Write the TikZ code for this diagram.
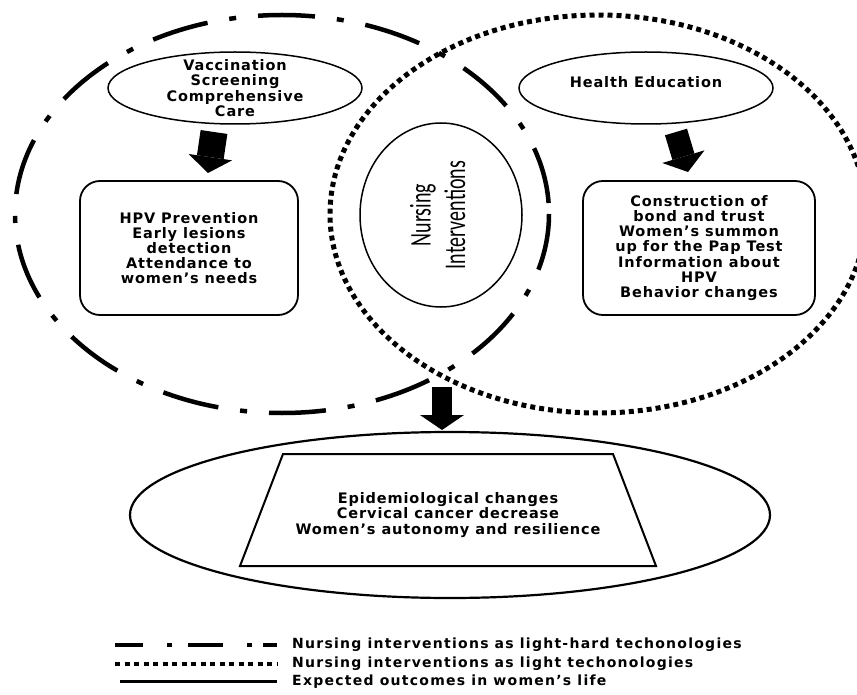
\documentclass[tikz,border=0pt]{standalone}
\usepackage{fontspec}
\usetikzlibrary{shapes.geometric,arrows.meta}
\newfontfamily\boxf[LetterSpace=6]{DejaVu Sans}
\newfontfamily\carl{Carlito}
\newfontfamily\legf[LetterSpace=9]{DejaVu Sans}
\begin{document}
\begin{tikzpicture}[x=1pt,y=-1pt,
  lighthard/.style={line width=4.5pt, dash pattern=on 57pt off 22pt on 7pt off 22pt},
  lightonly/.style={line width=5pt, dash pattern=on 5pt off 4pt},
  oval/.style={draw, ellipse, line width=1.5pt, inner sep=0pt},
  roundbox/.style={draw, rounded corners=20pt, line width=1.8pt, inner sep=0pt},
  btxt/.style={font=\boxf\bfseries\fontsize{14.5}{15.2}\selectfont, align=center, inner sep=0pt},
  legtxt/.style={font=\legf\bfseries\fontsize{14}{18}\selectfont, anchor=west, inner sep=0pt},
  blockarrow/.style={-{Triangle[width=44pt,length=16pt,line width=0pt]}}
]
\useasboundingbox (0,0) rectangle (857,695);

% large dashed regions
\draw[lighthard] (282,214) ellipse [x radius=267, y radius=199];
\draw[lightonly] (598,214) ellipse [x radius=268, y radius=199];

% top ellipses
\node[oval, minimum width=254pt, minimum height=72pt] (vac) at (235,88) {};
\node[btxt] (vactxt) at (235,88) {Vaccination\\Screening\\Comprehensive\\Care};
\node[oval, minimum width=254pt, minimum height=72pt] (hed) at (646,88) {};
\node[btxt] (hedtxt) at (646,82) {Health Education};

% boxes
\node[roundbox, minimum width=218pt, minimum height=134pt] (lbox) at (189,248) {};
\node[btxt] (lboxtxt) at (189,248) {HPV Prevention\\Early lesions\\detection\\Attendance to\\women’s needs};
\node[roundbox, minimum width=232pt, minimum height=134pt] (rbox) at (699,248) {};
\node[btxt] (rboxtxt) at (699,248) {Construction of\\bond and trust\\Women’s summon\\up for the Pap Test\\Information about\\HPV\\Behavior changes};

% nursing interventions
\node[oval, minimum width=162pt, minimum height=184pt] (nurse) at (441,215)
  {\rotatebox{90}{\scalebox{1}[1.5]{\carl\fontsize{20}{23}\selectfont\begin{tabular}{@{}c@{}}Nursing\\Interventions\end{tabular}}}};

% arrows
\coordinate (a1s) at (214,132);
\coordinate (a1e) at (208,173);
\coordinate (a2s) at (676,132);
\coordinate (a2e) at (688,172);
\coordinate (a3s) at (442,387);
\coordinate (a3e) at (442,430);
\draw[blockarrow, line width=27pt] (a1s) -- (a1e);
\draw[blockarrow, line width=23pt] (a2s) -- (a2e);
\draw[-{Triangle[width=44pt,length=15pt,line width=0pt]}, line width=20pt] (a3s) -- (a3e);

% outcomes
\node[draw, ellipse, line width=2.2pt, inner sep=0pt, minimum width=640pt, minimum height=166pt] (outc) at (450,515) {};
\draw[line width=2pt, line join=miter] (283,454) -- (613,454) -- (656,566) -- (240,566) -- cycle;
\node[btxt] (outtxt) at (448,515) {Epidemiological changes\\Cervical cancer decrease\\Women’s autonomy and resilience};

% legend
\draw[line width=3.5pt, dash pattern=on 28pt off 24pt on 5pt off 16pt on 35pt off 24pt on 5pt off 11pt on 14pt off 100pt] (115,645) -- (277,645);
\draw[line width=4pt, dash pattern=on 5pt off 4.5pt] (115,664) -- (277,664);
\draw[line width=3pt] (120,681) -- (277,681);
\node[legtxt] (leg1) at (292,645) {Nursing interventions as light-hard techonologies};
\node[legtxt] (leg2) at (292,664) {Nursing interventions as light techonologies};
\node[legtxt] (leg3) at (292,682) {Expected outcomes in women’s life};
\end{tikzpicture}
\end{document}
